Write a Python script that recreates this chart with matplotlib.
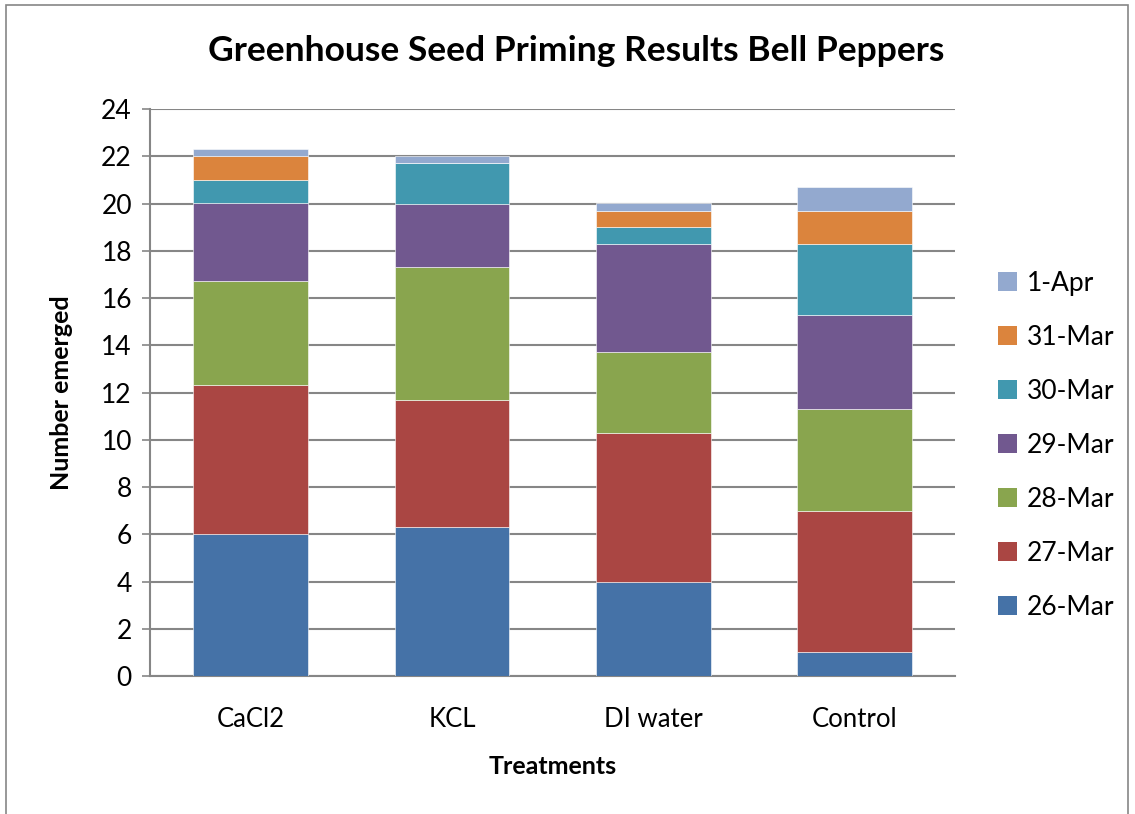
import matplotlib
matplotlib.use("Agg")
import matplotlib.pyplot as plt
import numpy as np
from matplotlib.patches import Patch, Rectangle

plt.rcParams['font.family'] = ['Lato', 'DejaVu Sans']

treatments = ["CaCl2", "KCL", "DI water", "Control"]
dates = ["26-Mar", "27-Mar", "28-Mar", "29-Mar", "30-Mar", "31-Mar", "1-Apr"]

# seeds emerged per day (stacked)
mar26 = [6.0, 6.3, 4.0, 1.0]
mar27 = [6.3, 5.4, 6.3, 6.0]
mar28 = [4.4, 5.6, 3.4, 4.3]
mar29 = [3.3, 2.7, 4.6, 4.0]
mar30 = [1.0, 1.7, 0.7, 3.0]
mar31 = [1.0, 0.0, 0.7, 1.4]
apr01 = [0.3, 0.3, 0.3, 1.0]

series = [mar26, mar27, mar28, mar29, mar30, mar31, apr01]
colors = ["#4572A7", "#AA4643", "#89A54E", "#71588F", "#4198AF", "#DB843D", "#93A9CF"]
yticks = list(range(0, 25, 2))

fig = plt.figure(figsize=(11.35, 8.14), dpi=100)
ax = fig.add_axes([0.1322, 0.1695, 0.7093, 0.6966])

x = np.arange(len(treatments))
bottom = np.zeros(len(treatments))
for vals, c in zip(series, colors):
    ax.bar(x, vals, width=0.57, bottom=bottom, color=c, edgecolor="white", linewidth=0.4, zorder=3)
    bottom += np.array(vals)

ax.set_xlim(-0.5, 3.5)
ax.set_ylim(0, 24)
ax.set_yticks(yticks)
ax.grid(axis="y", color="#868686", linewidth=1.5, zorder=0)
ax.set_xticks(x)
ax.set_xticklabels(treatments, fontsize=18.5)
ax.tick_params(axis="x", length=0, pad=22)
ax.tick_params(axis="y", length=6, width=1.2, color="#868686", labelsize=19, pad=7)
for s in ["top", "right"]:
    ax.spines[s].set_visible(False)
ax.spines["left"].set_color("#868686")
ax.spines["left"].set_linewidth(1.5)
ax.spines["bottom"].set_color("#868686")
ax.spines["bottom"].set_linewidth(1.5)

ax.set_xlabel("Treatments", fontsize=18, fontweight="bold", labelpad=17)
ax.set_ylabel("Number emerged", fontsize=18, fontweight="bold", labelpad=20)
fig.text(0.5075, 0.937, "Greenhouse Seed Priming Results Bell Peppers", ha="center", va="center",
         fontsize=25.5, fontweight="bold")

handles = [Patch(facecolor=c) for c in colors][::-1]
fig.legend(handles, dates[::-1], loc="center left", bbox_to_anchor=(0.858, 0.453), frameon=False,
           fontsize=19, handlelength=0.75, handleheight=0.75, handletextpad=0.35, labelspacing=1.1)

# outer chart frame
fig.patches.append(Rectangle((0.005, -0.1), 0.989, 1.094, transform=fig.transFigure, fill=False,
                             edgecolor="#868686", linewidth=1.2))

fig.savefig("out.png", dpi=100)
